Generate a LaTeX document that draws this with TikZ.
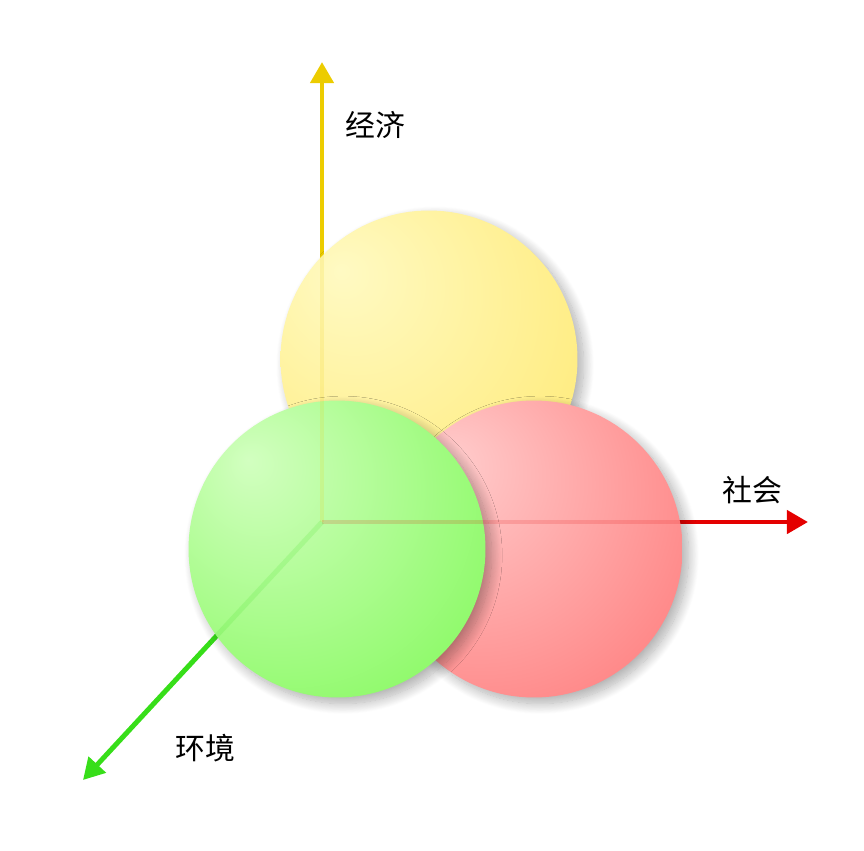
\documentclass[tikz,border=0pt]{standalone}
\usepackage{fontspec}
\newfontfamily\cjk{Noto Sans CJK SC}
\usetikzlibrary{arrows.meta,shadows.blur,calc}

\definecolor{yellowlight}{RGB}{255,250,195}
\definecolor{yellowdark}{RGB}{255,226,80}
\definecolor{redlight}{RGB}{255,205,205}
\definecolor{reddark}{RGB}{255,85,85}
\definecolor{greenlight}{RGB}{210,255,192}
\definecolor{greendark}{RGB}{95,246,45}
\definecolor{axisyellow}{RGB}{236,204,0}
\definecolor{axisred}{RGB}{228,0,0}
\definecolor{axisgreen}{RGB}{55,222,25}

\pgfdeclareradialshading{yellowball}{\pgfpoint{-15bp}{15bp}}{color(0bp)=(yellowlight); color(64bp)=(yellowdark); color(75bp)=(yellowdark)}
\pgfdeclareradialshading{redball}{\pgfpoint{-15bp}{15bp}}{color(0bp)=(redlight); color(64bp)=(reddark); color(75bp)=(reddark)}
\pgfdeclareradialshading{greenball}{\pgfpoint{-15bp}{15bp}}{color(0bp)=(greenlight); color(64bp)=(greendark); color(75bp)=(greendark)}

\begin{document}
\begin{tikzpicture}[x=0.02cm, y=-0.02cm,
	ball/.style={circle, minimum size=5.94cm, inner sep=0pt, shading=#1,
		blur shadow={shadow xshift=3.5pt, shadow yshift=-3.5pt, shadow blur radius=6pt,
			shadow blur steps=16, shadow opacity=32}},
	axis/.style={line width=2.8pt, -{Triangle[length=12pt, width=13pt]}, draw=#1},
	faintaxis/.style={line width=2.8pt, draw=#1, opacity=0.15},
	axislabel/.style={font=\cjk\fontsize{17pt}{20pt}\selectfont, inner sep=0pt}]
\useasboundingbox (0,0) rectangle (864,850);

% axes
\coordinate (origin) at (322,522);
\coordinate (top) at (322,62);
\coordinate (right) at (808,522);
\coordinate (left) at (83,780);
\draw[axis=axisyellow] (origin) -- (top);
\draw[axis=axisred] (origin) -- (right);
\draw[axis=axisgreen] (origin) -- (left);

% circles
\node[ball=yellowball] (economy) at (429,359) {};
\node[ball=redball] (society) at (534,549) {};
\node[ball=greenball] (environment) at (337,549) {};

% axes seen through the circles
\draw[faintaxis=axisyellow] (origin) -- ([yshift=-0.3cm]top);
\draw[faintaxis=axisred] (origin) -- ([xshift=-0.3cm]right);
\draw[faintaxis=axisgreen] (origin) -- ($(origin)!0.9!(left)$);

% labels
\node[axislabel] (economylabel) at (375,125) {经济};
\node[axislabel] (societylabel) at (752,490) {社会};
\node[axislabel] (environmentlabel) at (205,748) {环境};
\end{tikzpicture}
\end{document}
